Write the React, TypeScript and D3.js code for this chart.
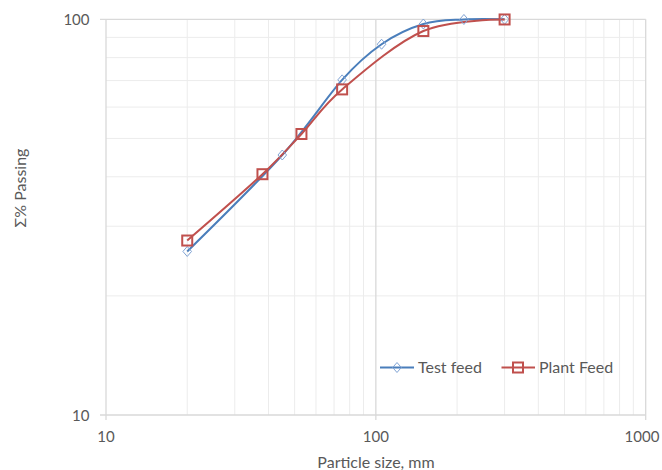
import React from "react";
import * as d3 from "d3";

const testX = [20, 45, 75, 105, 150, 212, 300];
const testY = [25.9, 45.4, 70.3, 86.5, 97.3, 99.9, 100];
const plantX = [20, 38, 53, 75, 150, 300];
const plantY = [27.6, 40.6, 51.3, 66.5, 93.4, 99.9];
const xTicks = [10, 100, 1000];
const yTicks = [10, 100];
const seriesNames = ["Test feed", "Plant Feed"];

const W = 662;
const H = 470;
const L = 106, R = 645.7, T = 19.3, B = 415;
const FONT = "Lato, 'Open Sans', sans-serif";
const FS = 16;
const TFS = 15;
const BLUE = "#4a7ebb";
const BLUE_MARK = "#7fa3d4";
const RED = "#c0504d";
const MAJOR = "#d9d9d9";
const MINOR = "#ececec";
const TXT = "#595959";

export default function App() {
  const x = d3.scaleLog().domain([10, 1000]).range([L, R]);
  const y = d3.scaleLog().domain([10, 100]).range([B, T]);
  const minorX: number[] = [];
  [10, 100].forEach((d) => { for (let k = 2; k <= 9; k++) minorX.push(d * k); });
  const minorY: number[] = [];
  for (let k = 2; k <= 9; k++) minorY.push(10 * k);

  const line = d3
    .line<[number, number]>()
    .x((d) => x(d[0]))
    .y((d) => y(d[1]))
    .curve(d3.curveCardinal.tension(0));

  const test: [number, number][] = testX.map((v, i) => [v, testY[i]]);
  const plant: [number, number][] = plantX.map((v, i) => [v, plantY[i]]);

  const diamond = (cx: number, cy: number, key: any) => (
    <path key={key} d={`M${cx},${cy - 5}L${cx + 4.3},${cy}L${cx},${cy + 5}L${cx - 4.3},${cy}Z`}
      fill="none" stroke={BLUE_MARK} strokeWidth={1} />
  );
  const square = (cx: number, cy: number, key: any) => (
    <rect key={key} x={cx - 5} y={cy - 5} width={10} height={10} fill="none" stroke={RED} strokeWidth={2} />
  );

  return (
    <svg width={W} height={H} style={{ position: "absolute", left: 0, top: 0, display: "block", background: "#fff" }}>
      {minorX.map((d) => (
        <line key={"mx" + d} x1={x(d)} x2={x(d)} y1={T} y2={B} stroke={MINOR} strokeWidth={1} />
      ))}
      {minorY.map((d) => (
        <line key={"my" + d} x1={L} x2={R} y1={y(d)} y2={y(d)} stroke={MINOR} strokeWidth={1} />
      ))}
      {xTicks.map((d) => (
        <line key={"Mx" + d} x1={x(d)} x2={x(d)} y1={T} y2={B + 5} stroke={MAJOR} strokeWidth={1.3} />
      ))}
      {yTicks.map((d) => (
        <line key={"My" + d} x1={L - 6} x2={R} y1={y(d)} y2={y(d)} stroke={MAJOR} strokeWidth={1.3} />
      ))}
      {xTicks.map((d) => (
        <text key={"tx" + d} x={Math.min(x(d), 642)} y={442} textAnchor="middle" fontFamily={FONT} fontSize={TFS} fill={TXT}>{d}</text>
      ))}
      {yTicks.map((d) => (
        <text key={"ty" + d} x={89.5} y={y(d) + 5.5} textAnchor="end" fontFamily={FONT} fontSize={TFS} fill={TXT}>{d}</text>
      ))}
      <text x={376} y={468} textAnchor="middle" fontFamily={FONT} fontSize={FS} fill={TXT}>Particle size, mm</text>
      <text transform="translate(26,188) rotate(-90)" textAnchor="middle" fontFamily={FONT} fontSize={FS} fill={TXT}>Σ% Passing</text>

      <path d={line(test) || ""} fill="none" stroke={BLUE} strokeWidth={2} />
      <path d={line(plant) || ""} fill="none" stroke={RED} strokeWidth={2} />
      {test.map((d, i) => diamond(x(d[0]), y(d[1]), "d" + i))}
      {plant.map((d, i) => square(x(d[0]), y(d[1]), "s" + i))}

      <g>
        <line x1={380} x2={414} y1={367.5} y2={367.5} stroke={BLUE} strokeWidth={2} />
        {diamond(397, 367.5, "ld")}
        <text x={418} y={373} fontFamily={FONT} fontSize={FS} fill={TXT}>{seriesNames[0]}</text>
        <line x1={501.5} x2={535} y1={367.5} y2={367.5} stroke={RED} strokeWidth={2} />
        {square(518, 367.5, "ls")}
        <text x={539} y={373} fontFamily={FONT} fontSize={FS} fill={TXT}>{seriesNames[1]}</text>
      </g>
    </svg>
  );
}
